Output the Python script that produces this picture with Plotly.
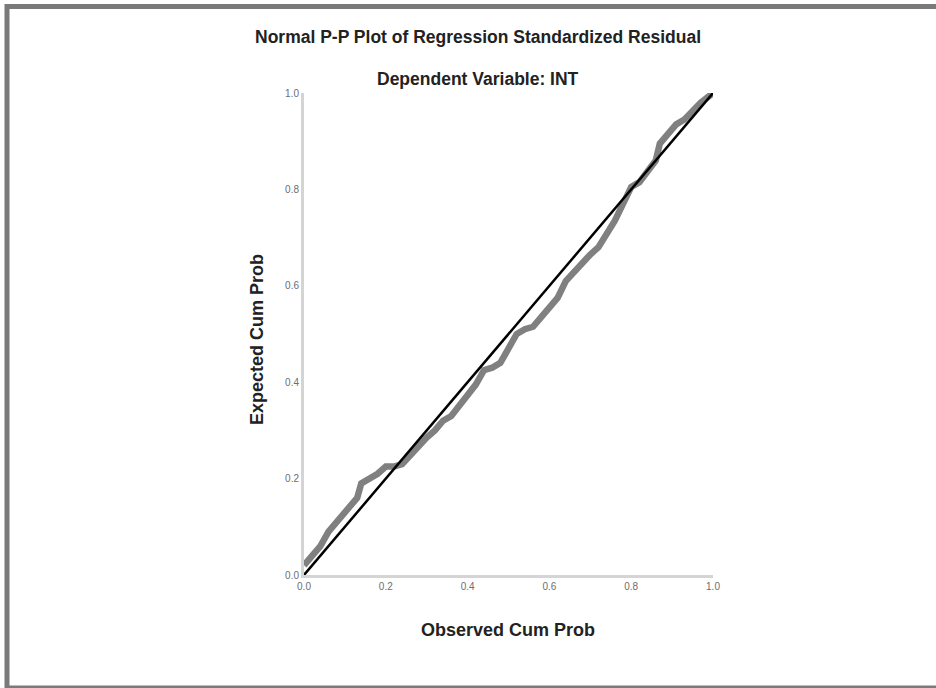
import plotly.graph_objects as go

# Observed vs expected cumulative probabilities
observed = [0.00, 0.02, 0.04, 0.06, 0.08, 0.10, 0.12, 0.13, 0.14, 0.16, 0.18, 0.20,
            0.22, 0.24, 0.26, 0.28, 0.30, 0.32, 0.34, 0.36, 0.38, 0.40, 0.42, 0.44,
            0.46, 0.48, 0.50, 0.52, 0.54, 0.56, 0.58, 0.60, 0.62, 0.64, 0.66, 0.68,
            0.70, 0.72, 0.74, 0.76, 0.78, 0.80, 0.82, 0.84, 0.86, 0.87, 0.89, 0.91,
            0.93, 0.95, 0.97, 1.00]
expected = [0.020, 0.040, 0.060, 0.090, 0.110, 0.130, 0.150, 0.160, 0.190, 0.200, 0.210, 0.225,
            0.225, 0.230, 0.250, 0.270, 0.285, 0.300, 0.320, 0.330, 0.350, 0.370, 0.395, 0.425,
            0.430, 0.440, 0.470, 0.500, 0.510, 0.515, 0.535, 0.555, 0.575, 0.610, 0.630, 0.645,
            0.665, 0.680, 0.705, 0.735, 0.770, 0.805, 0.815, 0.835, 0.860, 0.895, 0.915, 0.935,
            0.945, 0.965, 0.980, 1.000]
ref_line = [0.0, 1.0]
tick_vals = [0.0, 0.2, 0.4, 0.6, 0.8, 1.0]
tick_text = ["0.0", "0.2", "0.4", "0.6", "0.8", "1.0"]

title_text = "Normal P-P Plot of Regression Standardized Residual"
subtitle_text = "Dependent Variable: INT"
x_title = "Observed Cum Prob"
y_title = "Expected Cum Prob"

FONT = "Liberation Sans Narrow, Arial Narrow, Liberation Sans, Arial, sans-serif"

fig = go.Figure()
fig.add_trace(go.Scatter(x=observed, y=expected, mode="lines",
                         line=dict(color="#808080", width=6.5),
                         hoverinfo="x+y", showlegend=False))
fig.add_trace(go.Scatter(x=ref_line, y=ref_line, mode="lines",
                         line=dict(color="#000000", width=2.5),
                         hoverinfo="skip", showlegend=False))

L, R, T, B = 304, 223, 93, 113
W, H = 936, 688
pw, ph = W - L - R, H - T - B


def px(x):
    return (x - L) / pw


def py(y):
    return (H - B - y) / ph


fig.update_layout(
    width=W, height=H,
    margin=dict(l=L, r=R, t=T, b=B, pad=0),
    paper_bgcolor="white", plot_bgcolor="white",
    font=dict(family=FONT, color="#000000"),
    xaxis=dict(range=[0, 1], tickvals=tick_vals, ticktext=tick_text,
               showgrid=False, zeroline=False, showline=True,
               linecolor="#d4d4d4", linewidth=3, ticks="", ticklen=0,
               tickfont=dict(size=10, color="#6e6e6e", family=FONT), fixedrange=True),
    yaxis=dict(range=[0, 1], tickvals=tick_vals, ticktext=tick_text,
               showgrid=False, zeroline=False, showline=True,
               linecolor="#d4d4d4", linewidth=3, ticks="", ticklen=0,
               tickfont=dict(size=10, color="#6e6e6e", family=FONT), fixedrange=True),
    shapes=[dict(type="rect", xref="paper", yref="paper",
                 x0=px(7), x1=px(945), y0=py(688), y1=py(6.5),
                 line=dict(color="#7a7a7a", width=5), fillcolor="rgba(0,0,0,0)",
                 layer="below")],
    annotations=[
        dict(text="<b>" + title_text + "</b>", xref="paper", yref="paper",
             x=px(478), y=py(37), showarrow=False, xanchor="center", yanchor="middle",
             font=dict(size=17.5, color="#222222", family=FONT)),
        dict(text="<b>" + subtitle_text + "</b>", xref="paper", yref="paper",
             x=px(478), y=py(79), showarrow=False, xanchor="center", yanchor="middle",
             font=dict(size=17.5, color="#222222", family=FONT)),
        dict(text="<b>" + x_title + "</b>", xref="paper", yref="paper",
             x=px(508), y=py(630), showarrow=False, xanchor="center", yanchor="middle",
             font=dict(size=18, color="#222222", family=FONT)),
        dict(text="<b>" + y_title + "</b>", xref="paper", yref="paper",
             x=px(257), y=py(340), showarrow=False, xanchor="center", yanchor="middle",
             textangle=-90, font=dict(size=18, color="#222222", family=FONT)),
    ],
)

fig.write_html("out.html", config={"displayModeBar": False},
               post_script="document.body.style.margin='0';")
